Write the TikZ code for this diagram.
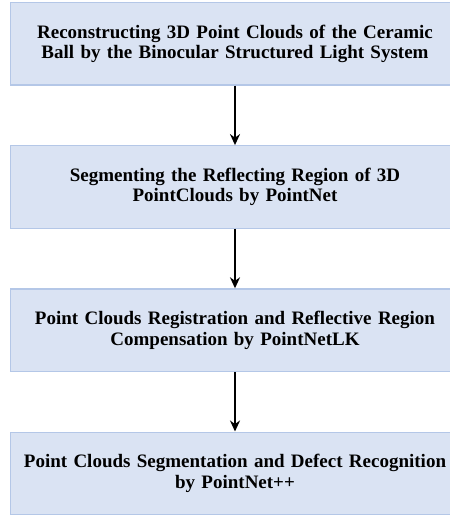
\documentclass[tikz,border=0pt]{standalone}
\usepackage{fontspec}
\setmainfont{Liberation Serif}
\usepackage{xcolor}
\usetikzlibrary{arrows.meta,positioning}

\definecolor{stagefill}{HTML}{DAE3F3}
\definecolor{stageline}{HTML}{B4C7E7}

\begin{document}
\begin{tikzpicture}[x=1pt, y=1pt,
    stage/.style={draw=stageline, fill=stagefill, line width=1.2pt,
      minimum width=449pt, minimum height=82.5pt, inner sep=0pt,
      text width=440pt, align=center,
      font=\fontsize{19}{20.5}\selectfont\bfseries},
    flow/.style={-{Stealth[length=11pt, width=10pt]}, line width=2.2pt},
    node distance=59.5pt]

  % Page frame (the boxes run off the right edge)
  \useasboundingbox (0,0) rectangle (450,-515);

  % Processing stages, top to bottom
  \node[stage] (recon) at (235,-43.75)
    {Reconstructing 3D Point Clouds of the Ceramic\\
     Ball by the Binocular Structured Light System};
  \node[stage, below=of recon] (reflect)
    {Segmenting the Reflecting Region of 3D\\
     PointClouds by PointNet};
  \node[stage, below=of reflect] (regist)
    {Point Clouds Registration and Reflective Region\\
     Compensation by PointNetLK};
  \node[stage, below=of regist] (defect)
    {Point Clouds Segmentation and Defect Recognition\\
     by PointNet++};

  % Arrows between stages
  \draw[flow] (recon) -- (reflect);
  \draw[flow] (reflect) -- (regist);
  \draw[flow] (regist) -- (defect);

\end{tikzpicture}
\end{document}
